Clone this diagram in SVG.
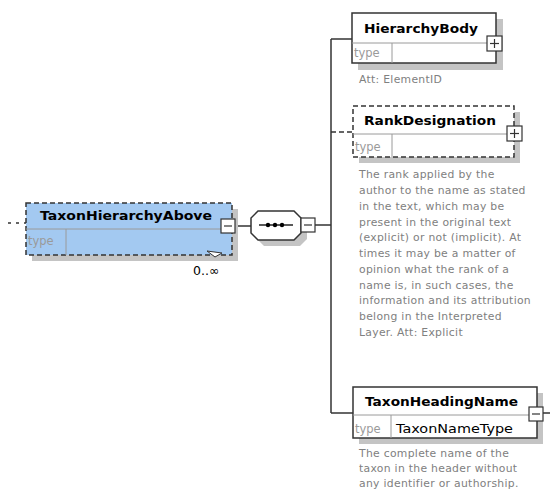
<svg xmlns="http://www.w3.org/2000/svg" width="550" height="491" viewBox="0 0 550 491">
  <style>
    .shadow { fill: #c4c4c4; }
    .box { fill: #ffffff; stroke: #333333; stroke-width: 1.5; }
    .dash { stroke-dasharray: 5 3; }
    .sel { fill: #a3c9f1; }
    .divider { stroke: #9a9a9a; stroke-width: 1; fill: none; }
    .title { font-family: "DejaVu Sans", Verdana, sans-serif; font-weight: bold; font-size: 12.5px; fill: #000000; }
    .type { font-family: "DejaVu Sans", Verdana, sans-serif; font-size: 11.5px; fill: #9a9a9a; }
    .typeval { font-family: "DejaVu Sans", Verdana, sans-serif; font-size: 11.5px; fill: #000000; }
    .doc { font-family: "DejaVu Sans", Verdana, sans-serif; font-size: 10.8px; letter-spacing: 0.3px; fill: #808080; }
    .line { stroke: #333333; stroke-width: 1.5; fill: none; }
    .btn { fill: #ffffff; stroke: #333333; stroke-width: 1.2; }
    .mark { stroke: #333333; stroke-width: 1.2; }
  </style>

  <!-- connectors -->
  <g id="connectors">
    <line class="line" x1="8" y1="223" x2="26" y2="223" stroke-dasharray="3 5"/>
    <line class="line" x1="236" y1="226" x2="251" y2="226"/>
    <line class="line" x1="315" y1="225" x2="331" y2="225"/>
    <line class="line" x1="331" y1="39" x2="331" y2="413"/>
    <line class="line" x1="331" y1="39" x2="352" y2="39"/>
    <line class="line dash" x1="331" y1="132" x2="353" y2="132"/>
    <line class="line" x1="331" y1="413" x2="353" y2="413"/>
    <line class="line" x1="543" y1="413" x2="550" y2="413"/>
  </g>

  <!-- TaxonHierarchyAbove -->
  <g id="TaxonHierarchyAbove">
    <rect class="shadow" x="32" y="209" width="206" height="52"/>
    <rect class="sel" x="26" y="203" width="206" height="52"/>
    <rect x="26" y="203" width="206" height="52" fill="none" stroke="#333333" stroke-width="1.5" class="dash"/>
    <line class="divider" x1="26" y1="229" x2="221" y2="229"/>
    <line class="divider" x1="66" y1="229" x2="66" y2="255"/>
    <text class="title" x="40" y="220" textLength="172" lengthAdjust="spacingAndGlyphs">TaxonHierarchyAbove</text>
    <text class="type" x="28" y="245">type</text>
    <rect class="btn" x="221" y="219" width="14" height="14"/>
    <line class="mark" x1="224" y1="226" x2="232" y2="226"/>
    <polygon points="207,251 215,257 222,253" fill="#ffffff" stroke="#333333" stroke-width="1"/>
    <text x="193" y="275" font-family="DejaVu Sans, Verdana, sans-serif" font-size="12.5px" fill="#000000">0..∞</text>
  </g>

  <!-- sequence compositor -->
  <g id="sequence">
    <polygon class="shadow" points="264,217 300,217 307,224 307,239 300,246 264,246 257,239 257,224"/>
    <polygon points="258,211 294,211 301,218 301,233 294,240 258,240 251,233 251,218" fill="#ffffff" stroke="#333333" stroke-width="1.5"/>
    <line x1="259" y1="225" x2="293" y2="225" stroke="#222222" stroke-width="1.5"/>
    <circle cx="268" cy="225" r="2.2" fill="#000000"/>
    <circle cx="275" cy="225" r="2.2" fill="#000000"/>
    <circle cx="282" cy="225" r="2.2" fill="#000000"/>
    <rect class="btn" x="301" y="218" width="14" height="14"/>
    <line class="mark" x1="304" y1="225" x2="312" y2="225"/>
  </g>

  <!-- HierarchyBody -->
  <g id="HierarchyBody">
    <rect class="shadow" x="358" y="19" width="145" height="51"/>
    <rect class="box" x="352" y="13" width="144" height="50"/>
    <line class="divider" x1="352" y1="43" x2="487" y2="43"/>
    <line class="divider" x1="392" y1="43" x2="392" y2="63"/>
    <text class="title" x="364" y="33" textLength="114" lengthAdjust="spacingAndGlyphs">HierarchyBody</text>
    <text class="type" x="354" y="57">type</text>
    <rect class="btn" x="487" y="36" width="15" height="15"/>
    <line class="mark" x1="490" y1="43.5" x2="499" y2="43.5"/>
    <line class="mark" x1="494.5" y1="39" x2="494.5" y2="48"/>
    <text class="doc" x="359" y="83">Att: ElementID</text>
  </g>

  <!-- RankDesignation -->
  <g id="RankDesignation">
    <rect class="shadow" x="359" y="112" width="161" height="51"/>
    <rect x="353" y="106" width="161" height="51" fill="#ffffff"/>
    <rect x="353" y="106" width="161" height="51" fill="none" stroke="#333333" stroke-width="1.5" class="dash"/>
    <line class="divider" x1="353" y1="134" x2="507" y2="134"/>
    <line class="divider" x1="392" y1="134" x2="392" y2="157"/>
    <text class="title" x="364" y="125" textLength="132" lengthAdjust="spacingAndGlyphs">RankDesignation</text>
    <text class="type" x="355" y="151">type</text>
    <rect class="btn" x="507" y="126" width="15" height="15"/>
    <line class="mark" x1="510" y1="133.5" x2="519" y2="133.5"/>
    <line class="mark" x1="514.5" y1="129" x2="514.5" y2="138"/>
    <text class="doc">
      <tspan x="359" y="178">The rank applied by the</tspan>
      <tspan x="359" y="194">author to the name as stated</tspan>
      <tspan x="359" y="210">in the text, which may be</tspan>
      <tspan x="359" y="226">present in the original text</tspan>
      <tspan x="359" y="241">(explicit) or not (implicit).  At</tspan>
      <tspan x="359" y="257">times it may be a matter of</tspan>
      <tspan x="359" y="273">opinion what the rank of a</tspan>
      <tspan x="359" y="289">name is, in such cases, the</tspan>
      <tspan x="359" y="304">information and its attribution</tspan>
      <tspan x="359" y="320">belong in the Interpreted</tspan>
      <tspan x="359" y="336">Layer.  Att: Explicit</tspan>
    </text>
  </g>

  <!-- TaxonHeadingName -->
  <g id="TaxonHeadingName">
    <rect class="shadow" x="359" y="393" width="184" height="51"/>
    <rect class="box" x="353" y="387" width="184" height="51"/>
    <line class="divider" x1="353" y1="415" x2="530" y2="415"/>
    <line class="divider" x1="391" y1="415" x2="391" y2="438"/>
    <text class="title" x="365" y="406" textLength="153" lengthAdjust="spacingAndGlyphs">TaxonHeadingName</text>
    <text class="type" x="355" y="433">type</text>
    <text class="typeval" x="396" y="433" textLength="117" lengthAdjust="spacingAndGlyphs">TaxonNameType</text>
    <rect class="btn" x="529" y="407" width="14" height="14"/>
    <line class="mark" x1="532" y1="414" x2="540" y2="414"/>
    <text class="doc">
      <tspan x="359" y="457">The complete name of the</tspan>
      <tspan x="359" y="472">taxon in the header without</tspan>
      <tspan x="359" y="487">any identifier or authorship.</tspan>
    </text>
  </g>
</svg>
